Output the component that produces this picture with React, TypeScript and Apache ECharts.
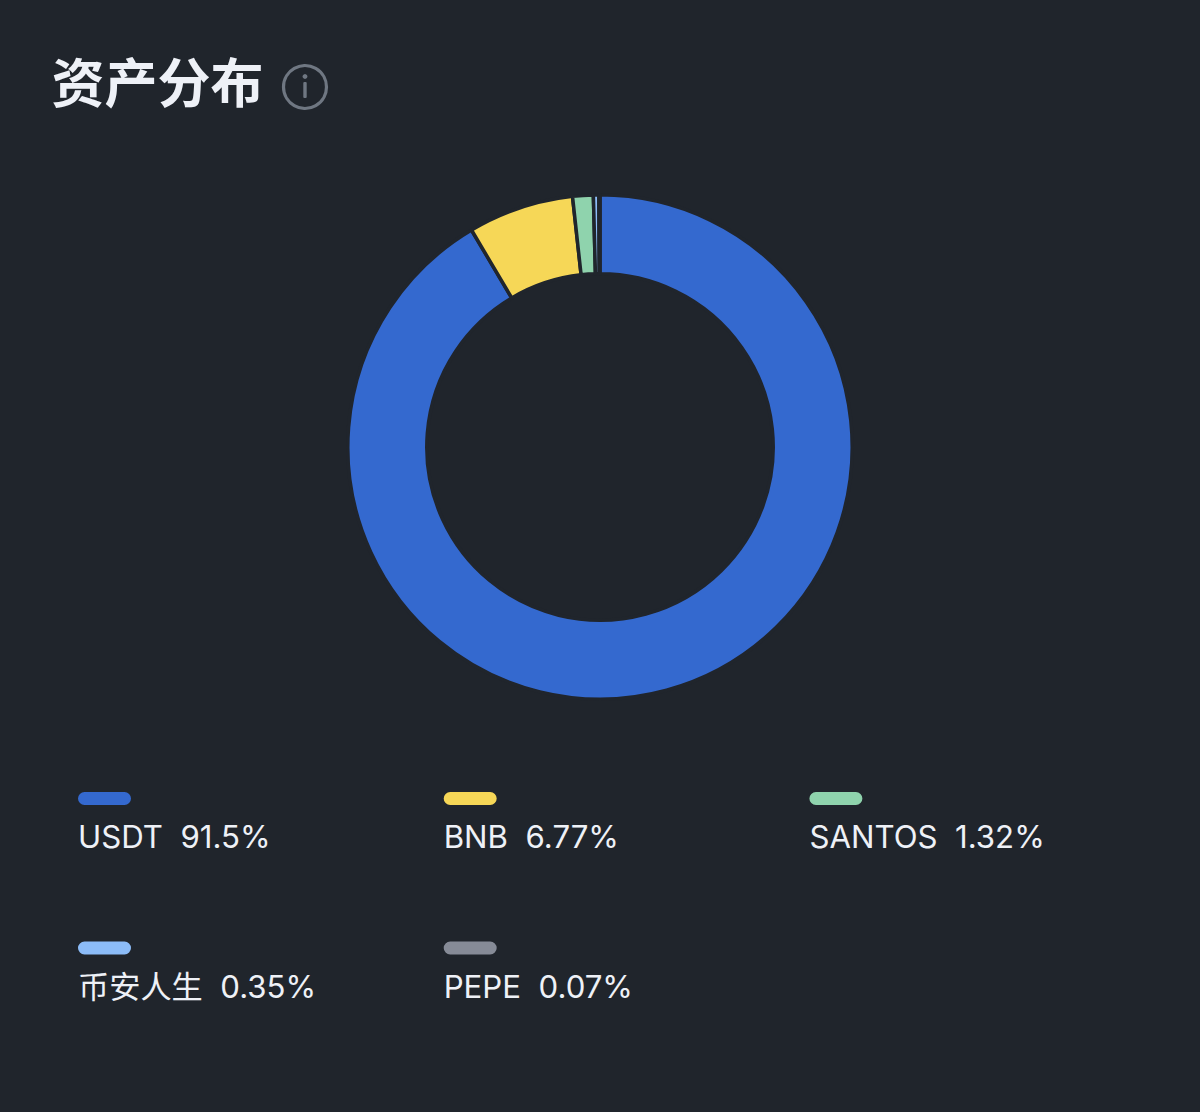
import React, { useEffect, useRef } from "react";
import * as echarts from "echarts";

const names = ["USDT", "BNB", "SANTOS", "币安人生", "PEPE"];
const values = [91.5, 6.77, 1.32, 0.35, 0.07];
const labels = ["91.5%", "6.77%", "1.32%", "0.35%", "0.07%"];
const colors = ["#3469cf", "#f6d757", "#8fd3ad", "#8cbcf8", "#868b97"];
const titleText = "资产分布";

const BG = "#20252c";
const TEXT = "#eef1f7";
const FONT = "Inter, 'Noto Sans CJK SC', sans-serif";

export default function App() {
  const ref = useRef<HTMLDivElement>(null);
  useEffect(() => {
    const chart = echarts.init(ref.current!, null, { renderer: "svg" });
    const legendItems: any[] = [];
    names.forEach((name, i) => {
      const col = i % 3;
      const row = Math.floor(i / 3);
      const x = 78 + col * 365.7;
      const y = 792 + row * 149.5;
      legendItems.push({
        type: "rect",
        shape: { x, y, width: 53, height: 13, r: 6.5 },
        style: { fill: colors[i] },
      });
      legendItems.push({
        type: "text",
        x,
        y: y + 45,
        style: {
          text: `${name}  ${labels[i]}`,
          fill: TEXT,
          font: `400 31.2px ${FONT}`,
          textVerticalAlign: "middle",
          textAlign: "left",
        },
      });
    });
    chart.setOption({
      animation: false,
      backgroundColor: BG,
      title: {
        text: titleText,
        left: 46.5,
        top: 41,
        textStyle: {
          color: TEXT,
          fontSize: 53,
          fontWeight: 700,
          fontFamily: "'Noto Sans CJK SC', sans-serif",
          lineHeight: 68,
        },
      },
      graphic: [
        {
          type: "circle",
          shape: { cx: 305, cy: 87, r: 21.5 },
          style: { fill: "none", stroke: "#6f7782", lineWidth: 3.2 },
        },
        {
          type: "circle",
          shape: { cx: 305, cy: 76.5, r: 2.4 },
          style: { fill: "#6f7782" },
        },
        {
          type: "rect",
          shape: { x: 303.3, y: 82, width: 3.4, height: 16, r: 1 },
          style: { fill: "#6f7782" },
        },
        ...legendItems,
      ],
      series: [
        {
          type: "pie",
          center: [600, 447],
          radius: [173.2, 252.2],
          startAngle: 90,
          clockwise: true,
          silent: true,
          label: { show: false },
          labelLine: { show: false },
          itemStyle: { borderColor: BG, borderWidth: 3.5 },
          data: names.map((name, i) => ({
            name,
            value: values[i],
            itemStyle: { color: colors[i] },
          })),
        },
      ],
    });
    return () => chart.dispose();
  }, []);
  return (
    <div
      ref={ref}
      style={{ position: "fixed", left: 0, top: 0, width: 1200, height: 1112 }}
    />
  );
}
